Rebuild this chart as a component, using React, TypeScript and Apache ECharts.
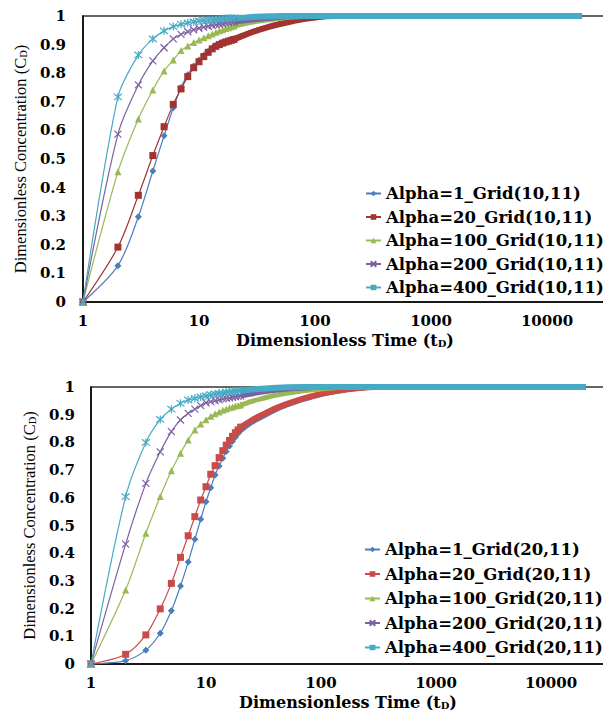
import { useEffect, useRef } from "react";
import * as echarts from "echarts";

// time steps (dimensionless time) where the markers sit
const T_HEAD = [1, 2, 3, 4, 5, 6, 7, 8, 9, 10, 11, 12, 13, 14, 15, 16, 17, 18, 19, 20];
// later times, where the markers merge into a continuous band
const T_TAIL = [20, 25, 30, 40, 50, 70, 100, 150, 200, 300, 20000];

const X_TICKS = [1, 10, 100, 1000, 10000];
const X_MAX = 100000;

const NAMES_TOP = [
  "Alpha=1_Grid(10,11)",
  "Alpha=20_Grid(10,11)",
  "Alpha=100_Grid(10,11)",
  "Alpha=200_Grid(10,11)",
  "Alpha=400_Grid(10,11)",
];
const NAMES_BOTTOM = [
  "Alpha=1_Grid(20,11)",
  "Alpha=20_Grid(20,11)",
  "Alpha=100_Grid(20,11)",
  "Alpha=200_Grid(20,11)",
  "Alpha=400_Grid(20,11)",
];

// ---- Grid(10,11) ----
const TOP_A1_HEAD = [0, 0.127, 0.298, 0.458, 0.581, 0.679, 0.75, 0.795, 0.825, 0.846, 0.863, 0.877, 0.889, 0.898, 0.904, 0.909, 0.912, 0.915, 0.918, 0.921];
const TOP_A1_TAIL = [0.921, 0.936, 0.948, 0.963, 0.973, 0.986, 0.995, 1, 1, 1, 1];
const TOP_A20_HEAD = [0, 0.192, 0.373, 0.512, 0.613, 0.691, 0.745, 0.788, 0.819, 0.84, 0.858, 0.873, 0.885, 0.894, 0.9, 0.905, 0.909, 0.912, 0.915, 0.918];
const TOP_A20_TAIL = [0.918, 0.934, 0.946, 0.962, 0.972, 0.985, 0.995, 1, 1, 1, 1];
const TOP_A100_HEAD = [0, 0.455, 0.64, 0.741, 0.808, 0.846, 0.879, 0.895, 0.907, 0.916, 0.924, 0.931, 0.937, 0.943, 0.948, 0.952, 0.956, 0.959, 0.962, 0.965];
const TOP_A100_TAIL = [0.965, 0.974, 0.98, 0.987, 0.992, 0.997, 1, 1, 1, 1, 1];
const TOP_A200_HEAD = [0, 0.587, 0.759, 0.843, 0.889, 0.92, 0.936, 0.945, 0.952, 0.957, 0.961, 0.964, 0.967, 0.969, 0.971, 0.973, 0.975, 0.977, 0.978, 0.979];
const TOP_A200_TAIL = [0.979, 0.983, 0.987, 0.992, 0.995, 0.999, 1, 1, 1, 1, 1];
const TOP_A400_HEAD = [0, 0.717, 0.864, 0.92, 0.948, 0.963, 0.971, 0.976, 0.98, 0.983, 0.985, 0.986, 0.987, 0.988, 0.989, 0.99, 0.991, 0.992, 0.992, 0.993];
const TOP_A400_TAIL = [0.993, 0.995, 0.997, 0.999, 1, 1, 1, 1, 1, 1, 1];

// ---- Grid(20,11) ----
const BOT_A1_HEAD = [0, 0.012, 0.05, 0.111, 0.192, 0.282, 0.368, 0.45, 0.523, 0.586, 0.636, 0.682, 0.715, 0.743, 0.767, 0.787, 0.804, 0.819, 0.832, 0.843];
const BOT_A1_TAIL = [0.843, 0.872, 0.89, 0.917, 0.934, 0.955, 0.973, 0.987, 0.994, 1, 1];
const BOT_A20_HEAD = [0, 0.035, 0.105, 0.199, 0.291, 0.385, 0.463, 0.532, 0.592, 0.64, 0.685, 0.716, 0.745, 0.77, 0.79, 0.807, 0.822, 0.835, 0.845, 0.855];
const BOT_A20_TAIL = [0.855, 0.88, 0.897, 0.922, 0.938, 0.958, 0.975, 0.988, 0.995, 1, 1];
const BOT_A100_HEAD = [0, 0.267, 0.472, 0.605, 0.698, 0.761, 0.809, 0.845, 0.866, 0.882, 0.894, 0.903, 0.91, 0.916, 0.921, 0.925, 0.928, 0.931, 0.933, 0.935];
const BOT_A100_TAIL = [0.935, 0.948, 0.957, 0.97, 0.977, 0.986, 0.993, 0.998, 1, 1, 1];
const BOT_A200_HEAD = [0, 0.433, 0.652, 0.766, 0.839, 0.881, 0.905, 0.92, 0.933, 0.943, 0.947, 0.951, 0.954, 0.957, 0.959, 0.961, 0.963, 0.965, 0.966, 0.967];
const BOT_A200_TAIL = [0.967, 0.975, 0.981, 0.988, 0.992, 0.996, 1, 1, 1, 1, 1];
const BOT_A400_HEAD = [0, 0.604, 0.8, 0.883, 0.92, 0.941, 0.953, 0.959, 0.964, 0.968, 0.972, 0.975, 0.977, 0.979, 0.981, 0.982, 0.984, 0.985, 0.986, 0.987];
const BOT_A400_TAIL = [0.987, 0.991, 0.994, 0.997, 0.999, 1, 1, 1, 1, 1, 1];

const COLORS_TOP = ["#4A7EBB", "#A3332F", "#98B954", "#7D60A0", "#46AAC5"];
const COLORS_BOTTOM = ["#4A7EBB", "#C94A46", "#98B954", "#7D60A0", "#46AAC5"];

const X_PATH = "path://M0,0L10,10M10,0L0,10";
const STAR_PATH = "path://M1,1L9,9M9,1L1,9M5,0L5,10";
const SYMBOLS = ["diamond", "rect", "triangle", X_PATH, STAR_PATH];
const SYMBOL_SIZES = [7, 7, 7, 7, 8];
const STROKED = [false, false, false, true, true];
const TAIL_WIDTHS = [5, 6, 5, 5, 6];

const TICK_FONT = "DejaVu Serif";
const TITLE_FONT = "Liberation Serif";

function panelSeries(g: number, names: string[], heads: number[][], tails: number[][], colors: string[]) {
  const tailSeries = names.map((n, i) => ({
    type: "line",
    name: n + " tail",
    xAxisIndex: g,
    yAxisIndex: g,
    data: T_TAIL.map((t, k) => [t, tails[i][k]]),
    smooth: 0.3,
    symbol: "none",
    clip: false,
    silent: true,
    z: 2,
    lineStyle: { color: colors[i], width: TAIL_WIDTHS[i] },
    emphasis: { disabled: true },
  }));
  const headSeries = names.map((n, i) => ({
    type: "line",
    name: n,
    xAxisIndex: g,
    yAxisIndex: g,
    data: T_HEAD.map((t, k) => [t, heads[i][k]]),
    smooth: 0.3,
    symbol: SYMBOLS[i],
    symbolSize: SYMBOL_SIZES[i],
    showSymbol: true,
    clip: false,
    z: 3,
    lineStyle: { color: colors[i], width: 1.2 },
    itemStyle: {
      color: colors[i],
      borderColor: colors[i],
      borderWidth: STROKED[i] ? 1.2 : 0,
    },
    emphasis: { disabled: true },
  }));
  return [...tailSeries, ...headSeries];
}

function xAxisFor(g: number, gap: number, shift: number) {
  return {
    type: "log",
    logBase: 10,
    gridIndex: g,
    min: X_TICKS[0],
    max: X_MAX,
    axisLine: { show: true, lineStyle: { color: "#000", width: 1.5 } },
    axisTick: { show: false },
    splitLine: { show: false },
    axisLabel: {
      margin: 11,
      showMaxLabel: false,
      fontFamily: TICK_FONT,
      fontWeight: "bold",
      fontSize: 15,
      color: "#000",
      formatter: (v: number) => (X_TICKS.some((t) => Math.abs(t - v) < 1e-6 * t) ? String(Math.round(v)) : ""),
    },
    name: "Dimensionless Time (t{sub|D})",
    nameLocation: "middle",
    nameGap: gap,
    nameTextStyle: {
      fontFamily: TICK_FONT,
      fontWeight: "bold",
      fontSize: 16,
      color: "#000",
      padding: [0, shift, 0, 0],
      rich: {
        sub: { fontFamily: TICK_FONT, fontWeight: "bold", fontSize: 10, color: "#000", verticalAlign: "bottom", padding: [6, 0, 0, 0] },
      },
    },
  };
}

function yAxisFor(g: number, margin: number) {
  return {
    type: "value",
    gridIndex: g,
    min: 0,
    max: 1,
    interval: 0.1,
    axisLine: { show: true, lineStyle: { color: "#000", width: 1.5 } },
    axisTick: { show: false },
    splitLine: { show: false },
    axisLabel: {
      margin,
      fontFamily: TICK_FONT,
      fontWeight: "bold",
      fontSize: 15,
      color: "#000",
    },
    name: "Dimensionless Concentration (C{sub|D})",
    nameLocation: "middle",
    nameRotate: 90,
    nameGap: 50,
    nameTextStyle: {
      fontFamily: TITLE_FONT,
      fontSize: 16.5,
      color: "#000",
      rich: {
        sub: { fontFamily: TITLE_FONT, fontSize: 10.5, color: "#000", verticalAlign: "bottom", padding: [5, 0, 0, 0] },
      },
    },
  };
}

function legendFor(names: string[], left: number, top: number, gap: number) {
  return {
    data: names,
    orient: "vertical",
    left,
    top,
    itemWidth: 15,
    itemHeight: 7,
    itemGap: gap,
    selectedMode: false,
    textStyle: { fontFamily: TICK_FONT, fontWeight: "bold", fontSize: 16.5, color: "#000" },
  };
}

export default function App() {
  const ref = useRef<HTMLDivElement>(null);
  useEffect(() => {
    if (!ref.current) return;
    const chart = echarts.init(ref.current, undefined, { renderer: "svg" });
    const option = {
      animation: false,
      backgroundColor: "#fff",
      grid: [
        { left: 83, top: 16, width: 580, height: 286, show: true, borderColor: "#333", borderWidth: 1.5, outerBoundsMode: "none", containLabel: false },
        { left: 91, top: 387, width: 575, height: 277, show: true, borderColor: "#333", borderWidth: 1.5, outerBoundsMode: "none", containLabel: false },
      ],
      xAxis: [xAxisFor(0, 30, 56), xAxisFor(1, 30, 61)],
      yAxis: [yAxisFor(0, 17), yAxisFor(1, 16)],
      legend: [legendFor(NAMES_TOP, 360, 180, 6.5), legendFor(NAMES_BOTTOM, 359, 536, 7.5)],
      series: [
        ...panelSeries(
          0,
          NAMES_TOP,
          [TOP_A1_HEAD, TOP_A20_HEAD, TOP_A100_HEAD, TOP_A200_HEAD, TOP_A400_HEAD],
          [TOP_A1_TAIL, TOP_A20_TAIL, TOP_A100_TAIL, TOP_A200_TAIL, TOP_A400_TAIL],
          COLORS_TOP
        ),
        ...panelSeries(
          1,
          NAMES_BOTTOM,
          [BOT_A1_HEAD, BOT_A20_HEAD, BOT_A100_HEAD, BOT_A200_HEAD, BOT_A400_HEAD],
          [BOT_A1_TAIL, BOT_A20_TAIL, BOT_A100_TAIL, BOT_A200_TAIL, BOT_A400_TAIL],
          COLORS_BOTTOM
        ),
      ],
    };
    chart.setOption(option as any);
    return () => chart.dispose();
  }, []);
  return (
    <div style={{ position: "absolute", left: 0, top: 0, width: 603, height: 710, overflow: "hidden", background: "#fff" }}>
      <div ref={ref} style={{ width: 603, height: 710 }} />
    </div>
  );
}
